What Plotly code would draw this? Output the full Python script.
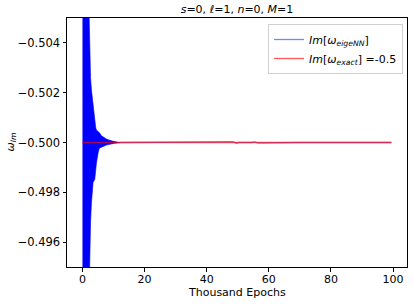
import plotly.graph_objects as go

# ---- data (thousand epochs vs Im[omega]) ----
# envelope of the rapidly oscillating eigeNN curve during early training
env_x = [0.0, 0.5, 1.0, 1.5, 1.8, 2.0, 2.1, 2.35, 2.6, 2.9, 3.2, 3.42, 3.95,
         4.28, 4.5, 5.03, 5.35, 5.56, 6.1, 6.6, 7.2, 7.7, 8.26, 8.8, 9.87, 10.4, 12.0]
env_upper = [-0.5200, -0.5180, -0.5150, -0.5100, -0.5070, -0.5058, -0.5052, -0.5037,
             -0.5026, -0.5021, -0.50171, -0.50144, -0.50091, -0.50058, -0.50050,
             -0.50044, -0.50040, -0.50038, -0.50027, -0.50022, -0.50018, -0.50014,
             -0.50011, -0.50008, -0.50005, -0.50004, -0.50002]
env_lower = [-0.4800, -0.4820, -0.4850, -0.4900, -0.4930, -0.4951, -0.4955, -0.4960,
             -0.4968, -0.4976, -0.4981, -0.4984, -0.49851, -0.49890, -0.49918,
             -0.49958, -0.49974, -0.49978, -0.49981, -0.49984, -0.49987, -0.49990,
             -0.49992, -0.49994, -0.49996, -0.49997, -0.49999]
# converged part of the eigeNN curve
tail_x = [12.0, 30.0, 47.5, 48.5, 49.5, 50.5, 54.5, 55.5, 56.5, 70.0, 99.5]
tail_y = [-0.50000, -0.50000, -0.50000, -0.50003, -0.49997, -0.50000, -0.50000,
          -0.50002, -0.49998, -0.50000, -0.50000]
exact_x = [0.0, 99.5]
exact_y = [-0.5, -0.5]

x_ticks = [0, 20, 40, 60, 80, 100]
y_ticks = [-0.504, -0.502, -0.500, -0.498, -0.496]

FONT = "DejaVu Sans"
fig = go.Figure()

fig.add_trace(go.Scatter(
    x=env_x + env_x[::-1], y=env_upper + env_lower[::-1],
    fill="toself", fillcolor="rgb(0,0,255)", mode="lines",
    line=dict(color="rgba(0,0,255,0.6)", width=1),
    showlegend=False, hoverinfo="skip"))
fig.add_trace(go.Scatter(
    x=tail_x, y=tail_y, mode="lines",
    line=dict(color="rgba(0,0,255,0.5)", width=1.3),
    name="<i>Im</i>[<i>ω</i><sub><i>eigeNN</i></sub>]"))
fig.add_trace(go.Scatter(
    x=exact_x, y=exact_y, mode="lines",
    line=dict(color="rgba(255,0,0,0.65)", width=1.3),
    name="<i>Im</i>[<i>ω</i><sub><i>exact</i></sub>] =-0.5"))

fig.update_layout(
    width=414, height=304,
    margin=dict(l=67, r=7, t=18, b=37),
    paper_bgcolor="white", plot_bgcolor="white",
    font=dict(family=FONT, size=11, color="black"),
    title=dict(text="<i>s</i>=0, <i>ℓ</i>=1, <i>n</i>=0, <i>M</i>=1",
               x=0.5, xref="paper", y=1 - 9 / 304, yref="container",
               xanchor="center", yanchor="middle",
               font=dict(family=FONT, size=11, color="black")),
    legend=dict(x=(403 - 67) / 340, y=(267 - 24) / 249, xanchor="right", yanchor="top",
                bgcolor="white", bordercolor="#d0d0d0", borderwidth=1,
                font=dict(family=FONT, size=11, color="black"),
                tracegroupgap=0, itemwidth=30),
    showlegend=True,
)
fig.update_xaxes(range=[-4.98, 104.5], tickvals=x_ticks, ticktext=[str(v) for v in x_ticks],
                 showgrid=False, zeroline=False, showline=True, linecolor="black",
                 linewidth=1, mirror=True, ticks="outside", ticklen=3.5,
                 tickcolor="black", tickfont=dict(family=FONT, size=11),
                 ticklabelstandoff=-2)
fig.update_yaxes(range=[-0.495, -0.505], tickvals=y_ticks, tickformat=".3f",
                 showgrid=False, zeroline=False, showline=True, linecolor="black",
                 linewidth=1, mirror=True, ticks="outside", ticklen=3.5,
                 tickcolor="black", tickfont=dict(family=FONT, size=11.5))

fig.add_annotation(text="Thousand Epochs", xref="paper", yref="paper",
                   x=0.5, y=-(292 - 267) / 249, xanchor="center", yanchor="middle",
                   showarrow=False, font=dict(family=FONT, size=11))
fig.add_annotation(text="<i>ω</i><sub><i>Im</i></sub>", xref="paper", yref="paper",
                   x=-(67 - 10) / 340, y=0.5, xanchor="center", yanchor="middle",
                   textangle=-90, showarrow=False, font=dict(family=FONT, size=11))

fig.write_html("out.html", config={"displayModeBar": False},
               post_script="document.body.style.margin='0';document.body.style.overflow='hidden';")
